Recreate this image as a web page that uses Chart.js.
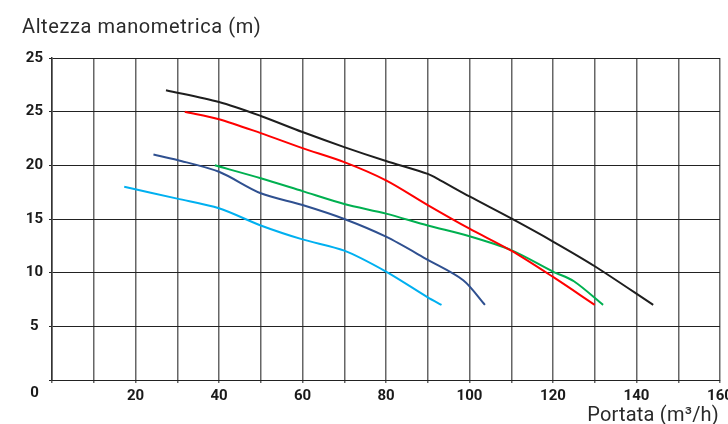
<!DOCTYPE html>
<html>
<head>
<meta charset="utf-8">
<script src="https://cdn.jsdelivr.net/npm/chart.js@4.4.1/dist/chart.umd.min.js"></script>
<style>
  html, body { margin: 0; padding: 0; background: #fff; }
  #wrap { position: relative; width: 728px; height: 424px; overflow: hidden; }
  .lbl { position: absolute; font-family: Roboto, sans-serif; font-size: 20px; line-height: 20px; color: #2a2a2a; white-space: nowrap; }
  #ytitle { left: 22px; top: 16px; letter-spacing: 0.6px; }
  #xtitle { right: 9px; top: 404px; letter-spacing: 0.2px; }
</style>
</head>
<body>
<div id="wrap">
  <canvas id="grafico" width="728" height="424"></canvas>
  <div class="lbl" id="ytitle">Altezza manometrica (m)</div>
  <div class="lbl" id="xtitle">Portata (m³/h)</div>
</div>
<script>
// curve: portata (m3/h) -> altezza (m)
const blackX = [27.3, 40, 50, 60, 70, 80, 90, 93, 100, 110, 120, 130, 144];
const blackY = [27.0, 25.9, 24.6, 23.1, 21.7, 20.4, 19.2, 18.6, 17.1, 15.05, 12.9, 10.6, 7.0];

const redX = [31.8, 40, 50, 60, 70, 80, 90, 100, 110, 120, 130];
const redY = [25.0, 24.3, 23.0, 21.6, 20.3, 18.6, 16.3, 14.1, 12.05, 9.6, 7.0];

const greenX = [39, 50, 60, 70, 80, 90, 100, 110, 120, 125, 132];
const greenY = [20.0, 18.8, 17.6, 16.4, 15.5, 14.4, 13.4, 12.1, 10.1, 9.2, 7.0];

const blueX = [24.3, 30, 40, 50, 60, 70, 80, 90, 98.5, 103.7];
const blueY = [21.0, 20.5, 19.4, 17.4, 16.3, 15.0, 13.35, 11.2, 9.3, 7.0];

const lightX = [17.3, 30, 40, 50, 60, 70, 80, 90, 93.3];
const lightY = [18.0, 16.9, 16.0, 14.4, 13.1, 12.05, 10.1, 7.7, 7.0];

// etichette asse y (come nell'originale, la prima in alto ripete 25)
const yTickLabels = ['0', '5', '10', '15', '20', '25', '25'];

function punti(xs, ys) {
    return xs.map((x, i) => ({ x: x, y: ys[i] }));
}

function serie(xs, ys, colore) {
    return {
        data: punti(xs, ys),
        borderColor: colore,
        borderWidth: 2,
        pointRadius: 0,
        tension: 0.3,
        fill: false
    };
}

const tickFont = { family: 'Roboto, sans-serif', size: 15, weight: 'bold' };

// lo "0" dell'asse y sta sulla riga delle etichette x
const zeroLabel = {
    id: 'zeroLabel',
    afterDraw(chart) {
        const ctx = chart.ctx;
        const y = chart.scales.y.getPixelForValue(0);
        ctx.save();
        ctx.font = 'bold 15px Roboto, sans-serif';
        ctx.fillStyle = '#1a1a1a';
        ctx.textAlign = 'center';
        ctx.textBaseline = 'middle';
        ctx.fillText(yTickLabels[0], 34.5, y + 13);
        ctx.restore();
    }
};

new Chart(document.getElementById('grafico'), {
    type: 'line',
    data: {
        datasets: [
            serie(blackX, blackY, '#1e1e1e'),
            serie(redX, redY, '#ff0000'),
            serie(greenX, greenY, '#00b050'),
            serie(blueX, blueY, '#2f5090'),
            serie(lightX, lightY, '#00b0f0')
        ]
    },
    options: {
        responsive: false,
        animation: false,
        layout: { padding: { top: 58, right: 8, bottom: 0, left: 0 } },
        plugins: { legend: { display: false }, tooltip: { enabled: false } },
        scales: {
            x: {
                type: 'linear',
                min: 0,
                max: 160,
                afterFit(s) { s.height = 44; s.paddingLeft = 0; s.paddingRight = 0; },
                ticks: {
                    stepSize: 10,
                    autoSkip: false,
                    maxRotation: 0,
                    padding: 4,
                    color: '#1a1a1a',
                    font: tickFont,
                    callback: (v) => (v % 20 === 0 && v !== 0) ? String(v) : ''
                },
                grid: { color: '#666', lineWidth: 1.5, tickLength: 3 },
                border: { color: '#222', width: 1 }
            },
            y: {
                min: 0,
                max: 30,
                afterFit(s) { s.width = 52; },
                ticks: {
                    stepSize: 5,
                    padding: 6,
                    crossAlign: 'center',
                    color: '#1a1a1a',
                    font: tickFont,
                    callback: (v, i) => i === 0 ? '' : yTickLabels[i]
                },
                grid: { color: '#222', lineWidth: 1, tickLength: 3 },
                border: { color: '#333', width: 1.5 }
            }
        }
    },
    plugins: [zeroLabel]
});
</script>
</body>
</html>
